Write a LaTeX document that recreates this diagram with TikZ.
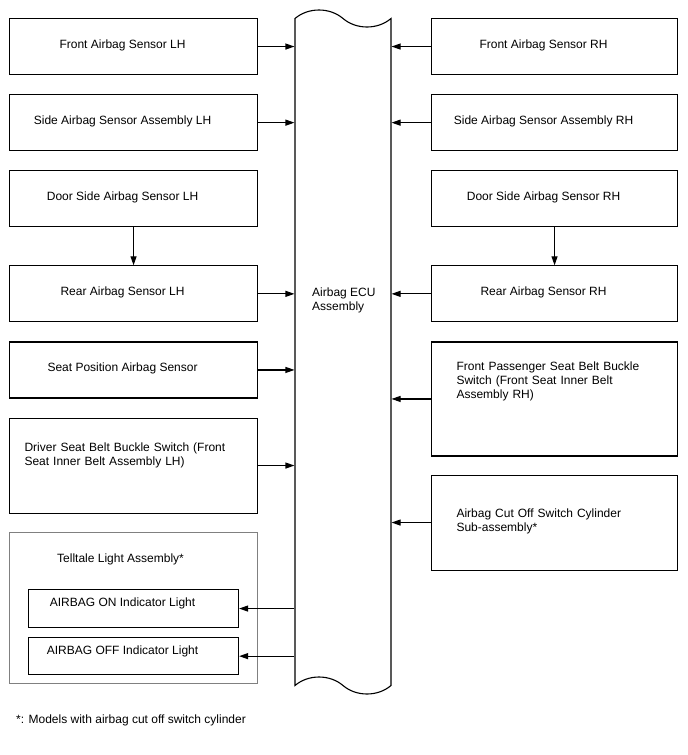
\documentclass[tikz,border=0pt]{standalone}
\usepackage{fontspec}
\setmainfont{Liberation Sans}
\usetikzlibrary{shapes.symbols,arrows.meta,positioning}

\begin{document}
\begin{tikzpicture}[
    x=1pt, y=1pt,
    node distance=19pt,
    font=\fontsize{12}{13.8}\selectfont,
    box/.style={rectangle, draw=black, line width=1.1pt, minimum width=248pt, minimum height=56pt, inner sep=0pt, text height=9pt, text depth=5pt, execute at begin node={\hspace*{-22pt}}},
    rbox/.style={box, minimum width=246pt},
    tallbox/.style={rectangle, draw=black, line width=1.1pt, align=left, inner sep=0pt, text height=9pt},
    lamp/.style={box, minimum width=210pt, minimum height=38pt, text depth=13pt},
    group/.style={rectangle, draw=black!50, line width=1pt, minimum width=248pt, minimum height=151pt, inner sep=0pt},
    ecubox/.style={tape, draw=black, line width=1.1pt, minimum width=96pt, minimum height=684pt, tape bend top=out and in, tape bend bottom=out and in, tape bend height=17pt, inner sep=0pt},
    arr/.style={-{Triangle[length=9pt, width=6pt]}, line width=1.1pt}
]
    \useasboundingbox (0,0) rectangle (688,-755);

    % left column
    \node [box, anchor=north west] (fslh) at (9,-18) {Front Airbag Sensor LH};
    \node [box, below=of fslh] (sslh) {Side Airbag Sensor Assembly LH};
    \node [box, below=of sslh] (dslh) {Door Side Airbag Sensor LH};
    \node [box, below=38pt of dslh] (rslh) {Rear Airbag Sensor LH};
    \node [box, below=of rslh] (spos) {Seat Position Airbag Sensor};
    \node [tallbox, below=of spos, minimum width=248pt, minimum height=95pt, text width=218pt, text depth=37pt] (dsbs) {Driver Seat Belt Buckle Switch (Front\\Seat Inner Belt Assembly LH)};

    % telltale group
    \node [group, anchor=north west] (tell) at (9,-532) {};
    \node [anchor=base west, inner sep=0pt] (telltitle) at (57,-562.7) {Telltale Light Assembly*};
    \node [lamp, anchor=north west] (onlamp) at (28,-589) {AIRBAG ON Indicator Light};
    \node [lamp, below=9pt of onlamp, minimum height=37pt] (offlamp) {AIRBAG OFF Indicator Light};

    % right column
    \node [rbox, anchor=north west] (fsrh) at (431,-18) {Front Airbag Sensor RH};
    \node [rbox, below=of fsrh] (ssrh) {Side Airbag Sensor Assembly RH};
    \node [rbox, below=of ssrh] (dsrh) {Door Side Airbag Sensor RH};
    \node [rbox, below=38pt of dsrh] (rsrh) {Rear Airbag Sensor RH};
    \node [tallbox, below=of rsrh, minimum width=246pt, minimum height=114pt, text width=196pt, text depth=65pt] (fpsb) {Front Passenger Seat Belt Buckle\\Switch (Front Seat Inner Belt\\Assembly RH)};
    \node [tallbox, below=18pt of fpsb, minimum width=246pt, minimum height=95pt, text width=196pt, text depth=19pt] (acos) {Airbag Cut Off Switch Cylinder\\Sub-assembly*};

    % ECU
    \node [ecubox] (ecu) at (343,-352) {};
    \node [anchor=base west, align=left, inner sep=0pt] (ecutxt) at (312,-310) {Airbag ECU\\Assembly};

    \node [anchor=base west, inner sep=0pt] (note) at (16,-723) {*: Models with airbag cut off switch cylinder};

    \foreach \n in {fslh,sslh,rslh,spos,dsbs}
        \draw [arr] (\n.east) -- (\n.east -| ecu.west);
    \foreach \n in {fsrh,ssrh,rsrh,fpsb,acos}
        \draw [arr] (\n.west) -- (\n.west -| ecu.east);
    \draw [arr] (dslh) -- (rslh);
    \draw [arr] (dsrh) -- (rsrh);
    \draw [arr] (onlamp.east -| ecu.west) -- (onlamp.east);
    \draw [arr] (offlamp.east -| ecu.west) -- (offlamp.east);
\end{tikzpicture}
\end{document}
